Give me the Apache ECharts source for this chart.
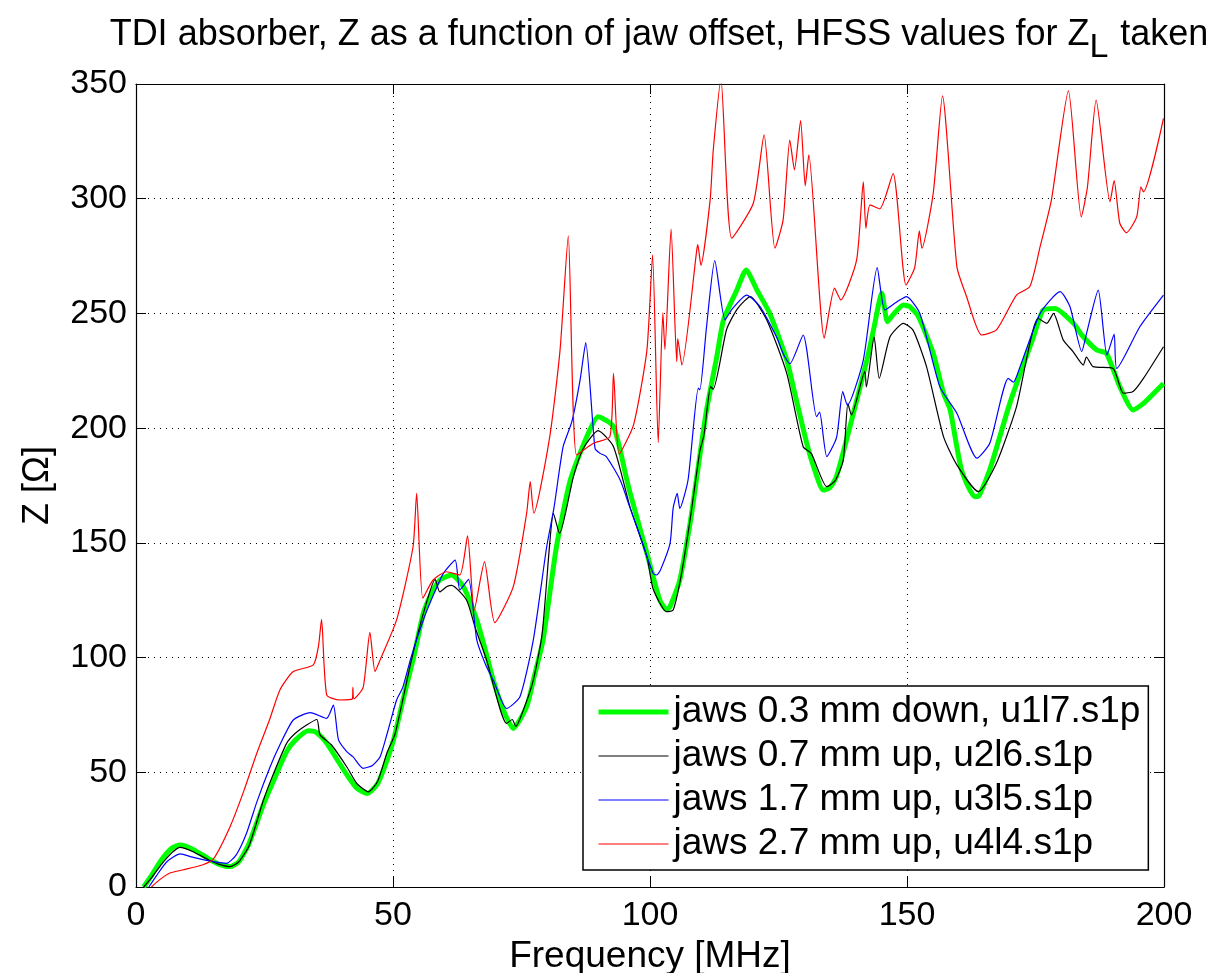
<!DOCTYPE html>
<html>
<head>
<meta charset="utf-8">
<script src="https://cdn.jsdelivr.net/npm/echarts@6/dist/echarts.min.js"></script>
<style>
html,body{margin:0;padding:0;background:#fff;}
#chart{width:1214px;height:973px;}
</style>
</head>
<body>
<div id="chart"></div>
<script>
// ---- Data (frequency in MHz, impedance in Ohm) ----
const xTicks = [0, 50, 100, 150, 200];
const yTicks = [0, 50, 100, 150, 200, 250, 300, 350];

const seriesNames = [
  'jaws 0.3 mm down, u1l7.s1p',
  'jaws 0.7 mm up, u2l6.s1p',
  'jaws 1.7 mm up, u3l5.s1p',
  'jaws 2.7 mm up, u4l4.s1p'
];

const green = [[1.5,0],[3,5],[5,12],[7,17],[8.6,18.3],[11,16.5],[14,12.5],[16,10],[18.3,8.9],[20,11],[22,19],[24.8,36],[26.5,45],[29.3,59],[31,64],[33.5,68.1],[35,67.5],[37,63],[39,56],[41,49],[43,43],[45,40.8],[47,45],[48.8,55],[50.1,64.1],[52,82],[54,100],[55.9,119.3],[57.5,128],[59.1,133.8],[61.4,136],[63.7,130.9],[66.3,116.4],[68,103],[69.5,90.2],[71.5,77],[73.4,69.1],[76,78.6],[77.5,92],[79.2,107.7],[81.8,148.3],[84.5,177.4],[87.7,196.3],[89.9,205],[92.9,200.7],[95.5,177.4],[96.1,172],[99.4,145.4],[101.9,125.1],[103.2,121],[103.9,122.2],[105.8,133.8],[107.9,160],[109.5,185],[111,207.9],[113,231.2],[114.3,247.2],[116.9,260.2],[118.7,268.9],[120.8,260.2],[123.3,250],[126.6,229.7],[128.5,212],[130.5,193.4],[132,182],[133.7,173],[135,174],[136.3,179],[138.9,200.7],[142.2,229.7],[143.5,243],[145.1,258.8],[146.2,246.4],[147.5,250],[149.3,253.7],[150.5,253],[152.2,248.7],[155.1,232.6],[157.1,215.2],[158.4,207.9],[160.6,181.8],[163.2,170.1],[164,170.5],[166.1,181.8],[170,210.8],[174.6,239.8],[176.5,251.5],[178.8,252.2],[182.4,245.7],[184,240.6],[186.9,234.1],[188.8,232.6],[191.4,218.1],[194,207.9],[196,210.8],[199.9,219.5]];

const black = [[1.5,0],[3,4],[5,10],[7,15],[8.6,17.3],[11,15.5],[14,12],[16,10],[18.3,8.9],[20,11],[22,18],[24.8,37.9],[26.5,48],[29.3,62.6],[31,67],[33.2,70.6],[35.2,73],[35.8,66.3],[38,62],[41,52.4],[43,45],[45.2,41.5],[47,46],[48.8,58.3],[50.4,66.7],[53.6,99],[56,120],[58.2,134.1],[59.1,128.6],[60.5,131],[61.4,131.5],[64.3,125.1],[66,113],[68.2,99],[72.1,71.3],[73.2,73],[73.9,70],[75.5,78],[77.3,90.2],[79,110],[80.5,150],[81.2,162.9],[82.4,154.1],[85.1,178.9],[87,191],[89.9,198.9],[92.9,191.9],[96.1,165.7],[99.4,144],[100.6,130],[103.2,120],[104.5,120.7],[106,135],[107.8,160],[109.7,190],[110.5,197],[111.8,218.1],[112.3,217],[114.9,243],[117,252],[119.5,257.3],[122.7,247.2],[126.6,223.9],[129.8,191.9],[131.4,188.9],[134.4,174.5],[136,177],[137.6,186.1],[138.5,210.8],[139.2,205.7],[141.8,224.6],[142.1,218],[143.6,239.8],[144.6,221.7],[146.7,239.8],[149.3,245.7],[151.2,242.6],[153.8,226.8],[157.1,196.3],[159.7,184],[163.9,172.3],[167.4,184.7],[171.3,209.3],[175.5,247.9],[177.2,245.7],[178.5,250],[180.4,238.4],[182.3,233.4],[184.3,227.5],[184.9,231],[186.2,226.8],[190.1,226],[192.1,215.2],[194,216],[196,221.7],[199.9,235.5]];

const blue = [[2.5,0],[4,5],[6,11],[8.6,14.4],[11,13],[14,11.5],[17.6,10.3],[19.5,14],[21.5,23.4],[23.5,37],[26.1,52.4],[28,62],[30.6,72.8],[33.9,76],[37.1,73.5],[38.4,79.3],[39.4,64.1],[41,59],[42.2,56.8],[44.2,51.7],[46,53],[47.5,56.8],[49,68],[50.7,81.5],[51.9,87],[53.5,100],[55.9,116.4],[58,128],[59.8,136.7],[62.1,142.5],[63,129.5],[64.7,134.1],[66.3,107.7],[68,97],[69.5,90.2],[72.1,77.8],[74.7,82.9],[77.3,107.7],[79.9,148.3],[81.3,165],[83.1,191.9],[84.8,202.8],[86.4,221],[87.5,237.3],[89.3,191.2],[90.3,189],[91.5,187.6],[94.2,177.4],[96,166],[98.1,152.7],[100.6,136.7],[101.3,136],[102,138],[103.9,149.8],[104.5,165],[105.3,171.6],[105.8,165],[107.4,177.4],[109.4,217.4],[109.7,216.7],[111,244.2],[112.6,273],[114.6,247.2],[116,252],[118.8,258],[121.4,253],[124.6,239.8],[126,232],[127.2,228],[129.8,240.6],[132.4,205],[133,207],[134.4,187.6],[136.3,196],[137.5,215.9],[138.4,210],[141.5,229.7],[144.2,270],[145.7,251.5],[148,255],[149.9,257.3],[152.5,250],[156.4,218],[159.7,206.5],[163.6,186.9],[166.1,193.4],[169.7,221.7],[170.7,220],[172,226.8],[175.9,250],[179.8,259.5],[181.7,253],[184,233.4],[184.9,241],[187.2,260.2],[188.9,231.9],[190.3,241],[190.8,226],[195.3,244.2],[199.9,258]];

const red = [[3,0],[4.5,3],[6.5,6],[9,7.4],[12.9,9.6],[15,12],[18.3,26.3],[21,42],[23.5,58.3],[26,73],[28,85.9],[30.6,93.9],[34.5,96.8],[35.5,105],[36.1,116.7],[37.1,83.7],[39.6,81.5],[42.1,82],[42.2,87],[42.4,82],[44.2,87],[45.5,111],[46.5,93.9],[47.5,99],[50.7,116.4],[53.9,148.3],[54.6,171.6],[55.8,125.9],[57.8,133.8],[60.4,137.4],[63,136],[64.5,153],[65.8,120.7],[67.8,141.8],[69.8,115.2],[73.4,130.9],[76,162.9],[76.7,176.7],[77.4,162.9],[80.5,196.3],[82.5,234],[84.1,283.8],[85.7,188.3],[89,193.4],[92.2,196.3],[92.9,223.9],[94,188.7],[96.8,201.4],[99.4,234],[100.5,275.5],[101.6,193.7],[102.5,250.3],[102.9,234.3],[104.1,286.8],[105.2,229],[105.4,239],[106.2,227.5],[109.1,277.7],[109.3,280],[109.9,271],[111.7,299.5],[112.3,321],[113.8,352],[115.9,282.8],[120.1,298],[122.2,327.8],[124.3,278.4],[125.9,290.8],[127.2,325.6],[128.1,312.6],[129.3,334],[130.2,305.6],[130.9,319.1],[133.9,239.2],[135.9,261],[137.1,255.9],[140.2,273.3],[141.5,307.4],[142,287.1],[142.8,297.3],[144.7,295.6],[147.3,311],[149.8,262.4],[151.5,270],[152.4,286],[152.9,278.4],[155.1,302.3],[156.9,344.8],[159.7,270.4],[161.6,257.3],[164.5,240.6],[167.4,242.8],[171.3,258],[173.9,261.7],[175.9,279.1],[178.1,299.5],[181.4,347],[183.9,292.1],[185.1,305],[186.8,343],[189.5,298.7],[190.3,307.9],[191.4,289.3],[192.7,285.2],[194.7,292.2],[195.5,305.2],[196,303],[199.9,335]];

const seriesColors = ['#00ff00', '#000000', '#0000ff', '#ff0000'];
const seriesWidths = [5, 1.2, 1.2, 1.2];
const seriesData = [green, black, blue, red];

// ---- Chart ----
const FONT = 'Liberation Sans, Arial, Helvetica, sans-serif';
const chart = echarts.init(document.getElementById('chart'), null, {renderer: 'canvas'});

const gridLine = {show: true, lineStyle: {color: '#000', width: 1, type: [1, 5]}};

const option = {
  animation: false,
  backgroundColor: '#fff',
  title: {
    text: 'TDI absorber, Z as a function of jaw offset, HFSS values for {z|Z}{sub|L} taken',
    left: 654, top: 0, textAlign: 'center',
    textStyle: {
      fontFamily: FONT, fontSize: 36, fontWeight: 'normal', color: '#000',
      rich: {
        z: {fontFamily: FONT, fontSize: 36, color: '#000'},
        sub: {fontFamily: FONT, fontSize: 34, color: '#000', padding: [26, 2, 0, 0]}
      }
    }
  },
  grid: {left: 136, right: 50, top: 84, bottom: 86, containLabel: false, outerBoundsMode: 'none'},
  legend: {
    left: 583, top: 686, orient: 'vertical',
    backgroundColor: '#fff', borderColor: '#000', borderWidth: 1.5,
    padding: [6, 8, 6, 13], itemGap: 4, itemWidth: 70, itemHeight: 14,
    itemStyle: {opacity: 0},
    textStyle: {fontFamily: FONT, fontSize: 37, color: '#000', lineHeight: 40},
    data: seriesNames.map((n, i) => ({name: n, lineStyle: {width: seriesWidths[i], color: seriesColors[i]}}))
  },
  xAxis: [{
    type: 'value', min: 0, max: 200, interval: 50, position: 'bottom',
    name: 'Frequency [MHz]', nameLocation: 'middle', nameGap: 45,
    nameTextStyle: {fontFamily: FONT, fontSize: 37, color: '#000'},
    axisLine: {show: true, onZero: false, lineStyle: {color: '#000', width: 1.2}},
    axisTick: {show: true, inside: true, length: 10, lineStyle: {color: '#000'}},
    axisLabel: {fontFamily: FONT, fontSize: 34, color: '#000', margin: 12,
      formatter: v => xTicks.includes(v) ? String(v) : ''},
    splitLine: gridLine
  }, {
    type: 'value', min: 0, max: 200, interval: 50, position: 'top',
    axisLine: {show: true, onZero: false, lineStyle: {color: '#000', width: 1.2}},
    axisTick: {show: true, inside: true, length: 10, lineStyle: {color: '#000'}},
    axisLabel: {show: false}, splitLine: {show: false}
  }],
  yAxis: [{
    type: 'value', min: 0, max: 350, interval: 50, position: 'left',
    name: 'Z [Ω]', nameLocation: 'middle', nameGap: 80, nameRotate: 90,
    nameTextStyle: {fontFamily: FONT, fontSize: 36, color: '#000'},
    axisLine: {show: true, onZero: false, lineStyle: {color: '#000', width: 1.2}},
    axisTick: {show: true, inside: true, length: 10, lineStyle: {color: '#000'}},
    axisLabel: {fontFamily: FONT, fontSize: 34, color: '#000', margin: 9,
      formatter: v => yTicks.includes(v) ? String(v) : ''},
    splitLine: gridLine
  }, {
    type: 'value', min: 0, max: 350, interval: 50, position: 'right',
    axisLine: {show: true, onZero: false, lineStyle: {color: '#000', width: 1.2}},
    axisTick: {show: true, inside: true, length: 10, lineStyle: {color: '#000'}},
    axisLabel: {show: false}, splitLine: {show: false}
  }],
  series: seriesNames.map((n, i) => ({
    name: n, type: 'line', xAxisIndex: 0, yAxisIndex: 0,
    data: seriesData[i], showSymbol: false, symbol: 'none', clip: true,
    smooth: 0.2,
    lineStyle: {color: seriesColors[i], width: seriesWidths[i]},
    itemStyle: {color: seriesColors[i]},
    z: 2 + i
  }))
};
chart.setOption(option);
</script>
</body>
</html>
